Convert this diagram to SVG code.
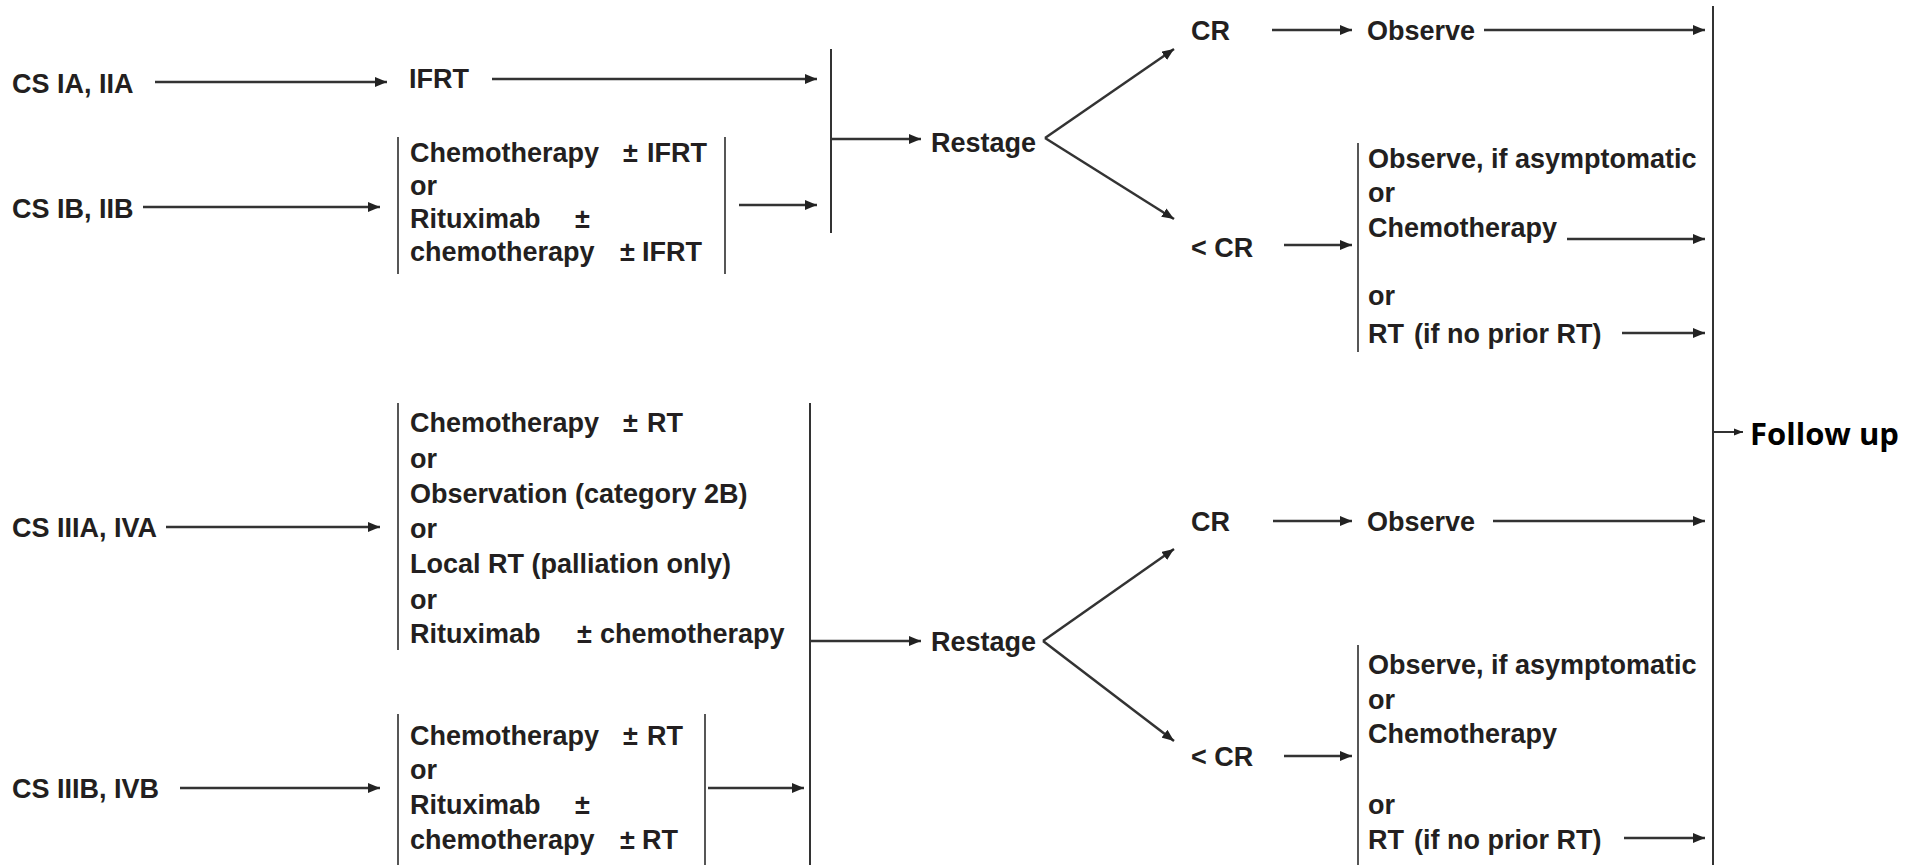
<svg xmlns="http://www.w3.org/2000/svg" width="1905" height="865" viewBox="0 0 1905 865">
<defs>
<marker id="ah" viewBox="0 0 12 10" refX="12" refY="5" markerWidth="12" markerHeight="10" markerUnits="userSpaceOnUse" orient="auto"><path d="M0,0 L12,5 L0,10 z" fill="#222"/></marker>
<marker id="ahs" viewBox="0 0 10 8" refX="10" refY="4" markerWidth="9" markerHeight="8" markerUnits="userSpaceOnUse" orient="auto"><path d="M0,0 L10,4 L0,8 z" fill="#222"/></marker>
<style>
text{font-family:"Liberation Sans",Arial,sans-serif;font-weight:bold;font-size:27px;fill:#231f20}
.fu{font-family:"Open Sans","Liberation Sans",sans-serif;font-size:31px;fill:#000}
.ar{stroke:#333;stroke-width:2.5;fill:none;marker-end:url(#ah)}
.ln{stroke:#333;stroke-width:2;fill:none}
.br{stroke:#444;stroke-width:1.8;fill:none}
</style>
</defs>
<rect width="1905" height="865" fill="#fff"/>
<g id="connectors">
<line class="ar" x1="155" y1="82" x2="387" y2="82"/>
<line class="ar" x1="492" y1="79" x2="817" y2="79"/>
<line class="ar" x1="143" y1="207" x2="380" y2="207"/>
<line class="ar" x1="739" y1="205" x2="817" y2="205"/>
<line class="ln" x1="831" y1="49" x2="831" y2="233"/>
<line class="ar" x1="831" y1="139" x2="921" y2="139"/>
<line class="ar" x1="1045" y1="138" x2="1174" y2="49"/>
<line class="ar" x1="1045" y1="138" x2="1174" y2="219"/>
<line class="ar" x1="1272" y1="30" x2="1352" y2="30"/>
<line class="ar" x1="1484" y1="30" x2="1705" y2="30"/>
<line class="ar" x1="1284" y1="245" x2="1352" y2="245"/>
<line class="ar" x1="1567" y1="239" x2="1705" y2="239"/>
<line class="ar" x1="1622" y1="333" x2="1705" y2="333"/>
<line class="ln" x1="1713" y1="6" x2="1713" y2="865"/>
<line class="ln" x1="1713" y1="432" x2="1743" y2="432" style="marker-end:url(#ahs)"/>
<line class="ar" x1="166" y1="527" x2="380" y2="527"/>
<line class="ar" x1="180" y1="788" x2="380" y2="788"/>
<line class="ar" x1="708" y1="788" x2="804" y2="788"/>
<line class="ln" x1="810" y1="403" x2="810" y2="865"/>
<line class="ar" x1="810" y1="641" x2="921" y2="641"/>
<line class="ar" x1="1043" y1="641" x2="1174" y2="549"/>
<line class="ar" x1="1043" y1="641" x2="1174" y2="741"/>
<line class="ar" x1="1273" y1="521" x2="1352" y2="521"/>
<line class="ar" x1="1493" y1="521" x2="1705" y2="521"/>
<line class="ar" x1="1284" y1="756" x2="1352" y2="756"/>
<line class="ar" x1="1624" y1="838" x2="1705" y2="838"/>
</g>
<g id="cs-ia"><text x="12" y="93">CS IA, IIA</text></g>
<g id="ifrt"><text x="409" y="88">IFRT</text></g>
<g id="cs-ib"><text x="12" y="218">CS IB, IIB</text></g>
<g id="options-ib">
<line class="br" x1="398" y1="137" x2="398" y2="274"/>
<line class="br" x1="725" y1="137" x2="725" y2="274"/>
<text x="410" y="162">Chemotherapy<tspan x="623">±</tspan><tspan x="647">IFRT</tspan></text>
<text x="410" y="195">or</text>
<text x="410" y="228">Rituximab<tspan x="575">±</tspan></text>
<text x="410" y="261">chemotherapy<tspan x="620">±</tspan><tspan x="642">IFRT</tspan></text>
</g>
<g id="restage-1"><text x="931" y="152">Restage</text></g>
<g id="cr-1"><text x="1191" y="40">CR</text></g>
<g id="observe-1"><text x="1367" y="40">Observe</text></g>
<g id="lcr-1"><text x="1191" y="257">&lt; CR</text></g>
<g id="options-lcr-1">
<line class="br" x1="1358" y1="143" x2="1358" y2="352"/>
<text x="1368" y="168">Observe, if asymptomatic</text>
<text x="1368" y="202">or</text>
<text x="1368" y="237">Chemotherapy</text>
<text x="1368" y="305">or</text>
<text x="1368" y="343">RT<tspan x="1414">(if no prior RT)</tspan></text>
</g>
<g id="follow-up"><text class="fu" x="1750" y="445">Follow up</text></g>
<g id="cs-iiia"><text x="12" y="537">CS IIIA, IVA</text></g>
<g id="options-iiia">
<line class="br" x1="398" y1="403" x2="398" y2="650"/>
<text x="410" y="432">Chemotherapy<tspan x="623">±</tspan><tspan x="647">RT</tspan></text>
<text x="410" y="468">or</text>
<text x="410" y="503">Observation (category 2B)</text>
<text x="410" y="538">or</text>
<text x="410" y="573">Local RT (palliation only)</text>
<text x="410" y="609">or</text>
<text x="410" y="643">Rituximab<tspan x="577">±</tspan><tspan x="600">chemotherapy</tspan></text>
</g>
<g id="cs-iiib"><text x="12" y="798">CS IIIB, IVB</text></g>
<g id="options-iiib">
<line class="br" x1="398" y1="714" x2="398" y2="865"/>
<line class="br" x1="705" y1="714" x2="705" y2="865"/>
<text x="410" y="745">Chemotherapy<tspan x="623">±</tspan><tspan x="647">RT</tspan></text>
<text x="410" y="779">or</text>
<text x="410" y="814">Rituximab<tspan x="575">±</tspan></text>
<text x="410" y="849">chemotherapy<tspan x="620">±</tspan><tspan x="642">RT</tspan></text>
</g>
<g id="restage-2"><text x="931" y="651">Restage</text></g>
<g id="cr-2"><text x="1191" y="531">CR</text></g>
<g id="observe-2"><text x="1367" y="531">Observe</text></g>
<g id="lcr-2"><text x="1191" y="766">&lt; CR</text></g>
<g id="options-lcr-2">
<line class="br" x1="1358" y1="645" x2="1358" y2="865"/>
<text x="1368" y="674">Observe, if asymptomatic</text>
<text x="1368" y="709">or</text>
<text x="1368" y="743">Chemotherapy</text>
<text x="1368" y="814">or</text>
<text x="1368" y="849">RT<tspan x="1414">(if no prior RT)</tspan></text>
</g>
</svg>
